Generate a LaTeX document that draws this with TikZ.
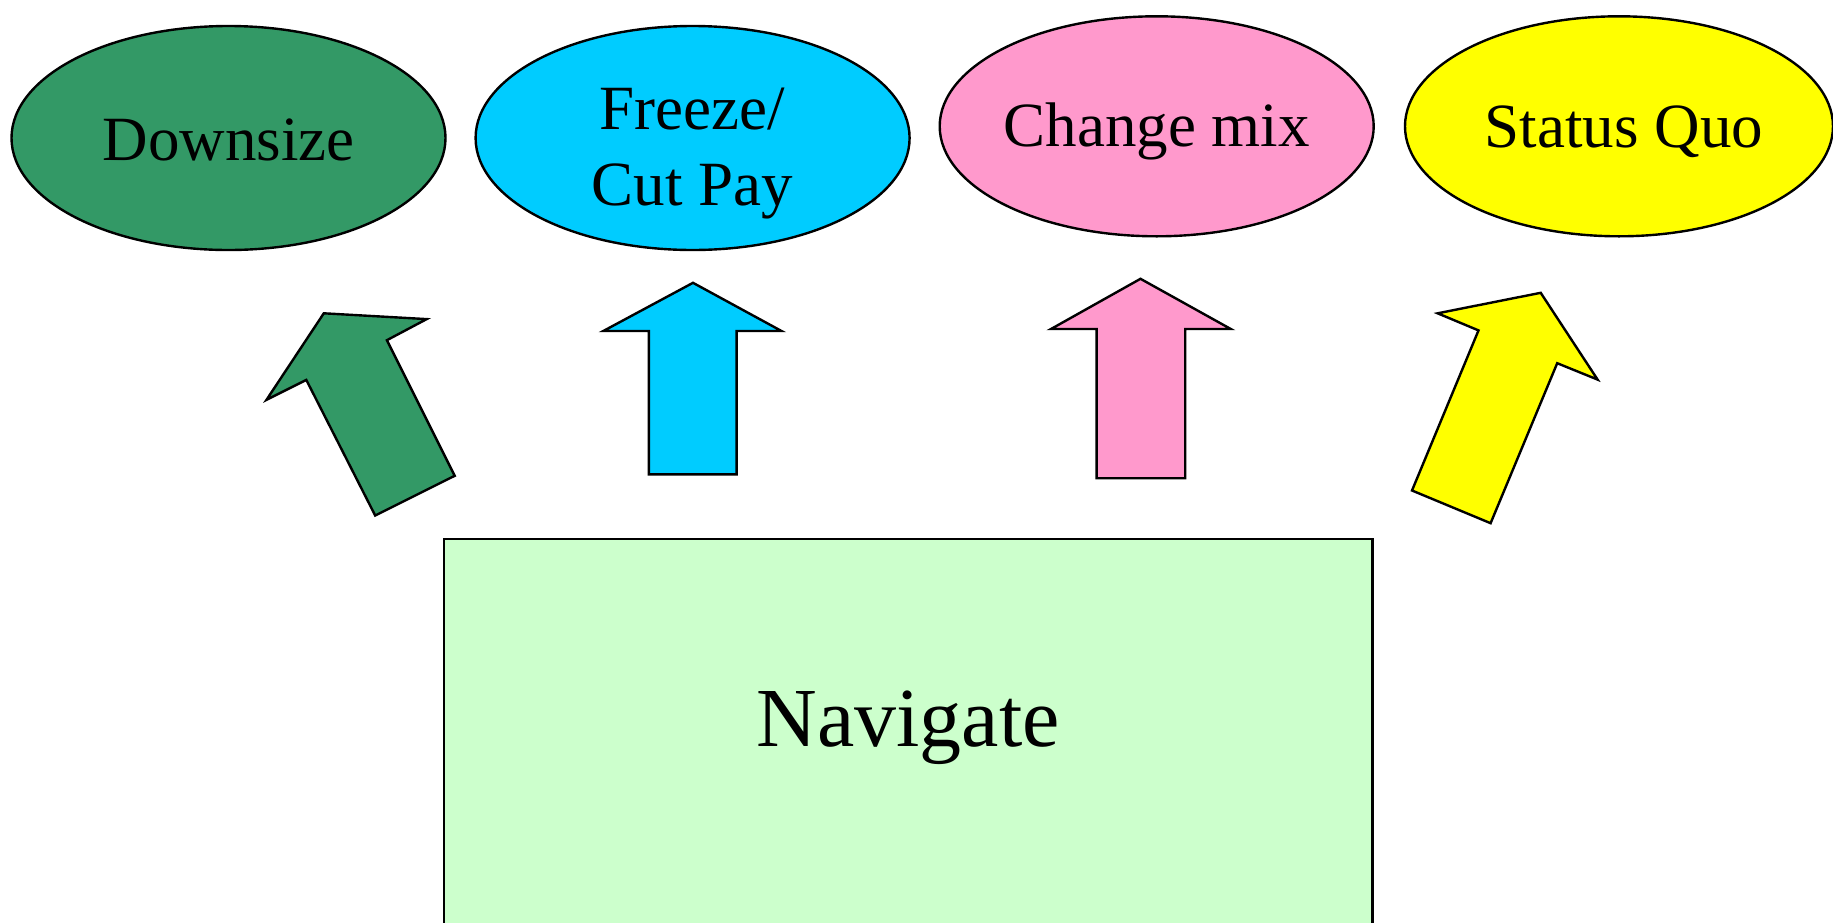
\documentclass[tikz,border=0pt]{standalone}
\usepackage{fontspec}
\setmainfont{Liberation Serif}
\usetikzlibrary{shapes.geometric}

\definecolor{seagreen}{HTML}{339966}
\definecolor{skycyan}{HTML}{00CCFF}
\definecolor{rosepink}{HTML}{FF99CC}
\definecolor{brightyellow}{HTML}{FFFF00}
\definecolor{palegreen}{HTML}{CCFFCC}

\tikzset{
  oval/.style={ellipse, draw=black, line width=1.2pt, inner sep=0pt,
               minimum width=217pt, minimum height=112pt},
  ovaltext/.style={font=\fontsize{31.5}{38}\selectfont, align=center, inner sep=0pt},
  blockarrow/.style={draw=black, line width=1.2pt, line join=miter},
  boardbox/.style={draw=black, line width=1.3pt, fill=palegreen},
}

\begin{document}
\begin{tikzpicture}[x=0.5pt, y=-0.5pt]
  \useasboundingbox (0,0) rectangle (1833,922);

  % option ovals
  \node[oval, fill=seagreen]     (down)   at (228.5,138) {};
  \node[oval, fill=skycyan]      (freeze) at (692.6,138) {};
  \node[oval, fill=rosepink, minimum height=110pt] (mix) at (1156.7,126.3) {};
  \node[oval, fill=brightyellow, minimum height=110pt, minimum width=214pt] (quo) at (1619,126.3) {};

  \node[ovaltext] (downtxt)   at ([yshift=-1.2pt]down.center)   {Downsize};
  \node[ovaltext] (freezetxt) at ([yshift=-8pt]freeze.center) {Freeze/\\Cut Pay};
  \node[ovaltext] (mixtxt)    at ([yshift=-2.5pt]mix.center)    {Change mix};
  \node[ovaltext] (quotxt)    at ([xshift=2.5pt,yshift=-2.5pt]quo.center)    {Status Quo};

  % central box (runs past the lower edge)
  \draw[boardbox] (444,539) rectangle (1372.5,930);
  \node[font=\fontsize{42}{50}\selectfont, inner sep=0pt] (nav) at (908,728) {Navigate};

  % block arrows pointing from the box to the ovals
  \filldraw[blockarrow, fill=seagreen]
    (323.8,313.3) -- (426.7,319.1) -- (386.9,340.2) -- (454.7,475.8)
    -- (375.2,515.5) -- (306.3,379.9) -- (266.5,399.8) -- cycle;
  \filldraw[blockarrow, fill=skycyan]
    (693,282.8) -- (781.5,331) -- (736.6,331) -- (736.6,474.3)
    -- (648.9,474.3) -- (648.9,331) -- (603.3,331) -- cycle;
  \filldraw[blockarrow, fill=rosepink]
    (1140.5,278.8) -- (1230.8,329) -- (1185.2,329) -- (1185.2,478.2)
    -- (1096.6,478.2) -- (1096.6,329) -- (1051,329) -- cycle;
  \filldraw[blockarrow, fill=brightyellow]
    (1540.7,292.8) -- (1597.6,379.6) -- (1557.2,363.2) -- (1490.6,523.2)
    -- (1412,490.5) -- (1478.5,330.4) -- (1437.6,313.3) -- cycle;
\end{tikzpicture}
\end{document}
